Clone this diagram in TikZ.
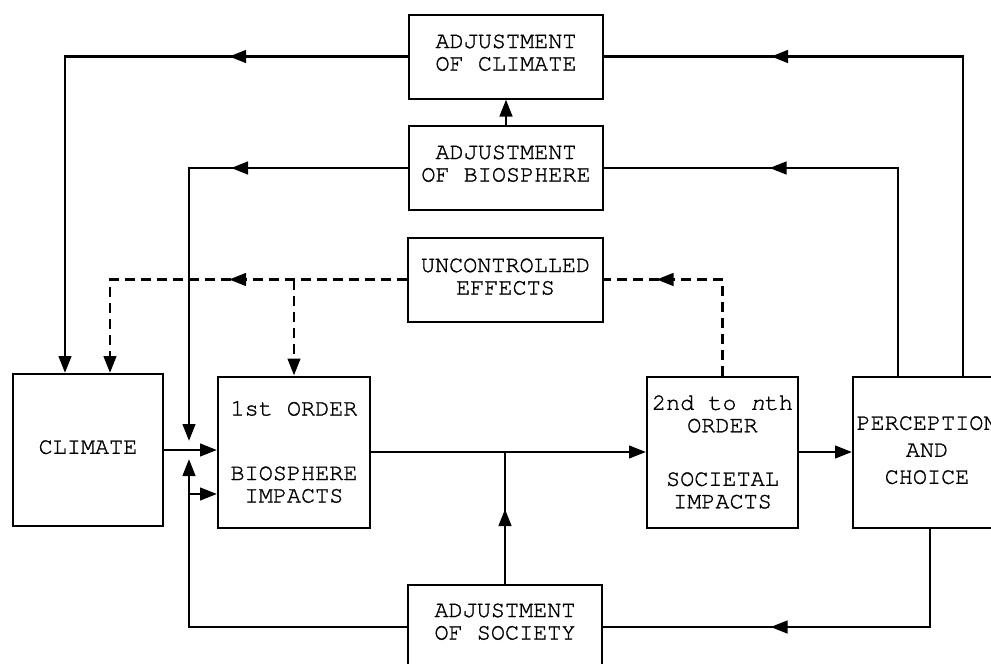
\documentclass[tikz,border=0pt]{standalone}
\usepackage{fontspec}
\setmonofont{texgyrecursor-regular.otf}[ItalicFont=texgyrecursor-italic.otf,FakeBold=1.2]
\usetikzlibrary{arrows.meta,decorations.markings}
\tikzset{
 box/.style={draw, line width=2pt, inner sep=0pt, align=center,
   font=\ttfamily\fontsize{23.5}{22.5}\selectfont},
 lift/.style={text depth=#1},
 conn/.style={line width=2.7pt},
 dsh/.style={conn, dash pattern=on 10pt off 6pt},
 tip/.style={-{Triangle[length=17pt,width=12.5pt]}},
 marr/.style={postaction={decorate}, decoration={markings,
   mark=at position #1 with {\arrow{Triangle[length=17pt,width=12.5pt]}}}},
}
\begin{document}
\begin{tikzpicture}[x=1pt,y=-1pt]
\useasboundingbox (0,0) rectangle (991,664);
\clip (0,0) rectangle (991,664);
% boxes
\node[box, lift=8pt, minimum width=194pt, minimum height=84pt] (adjc) at (506,56.5) {ADJUSTMENT\\OF CLIMATE};
\node[box, lift=9pt, minimum width=194pt, minimum height=84pt] (adjb) at (506,168) {ADJUSTMENT\\OF BIOSPHERE};
\node[box, lift=6pt, minimum width=195pt, minimum height=84pt] (unc) at (505.5,279.5) {UNCONTROLLED\\EFFECTS};
\node[box, lift=6pt, minimum width=150pt, minimum height=152pt] (clim) at (88,450) {CLIMATE};
\node[box, minimum width=152pt, minimum height=151pt] (first) at (294,452) {1st ORDER\\[42pt]BIOSPHERE\\IMPACTS};
\node[box, minimum width=151pt, minimum height=151pt] (second) at (722.5,452) {2nd to \textit{n}th\\ORDER\\[31pt]SOCIETAL\\IMPACTS};
\node[box, lift=4pt, minimum width=148pt, minimum height=151pt] (perc) at (927,452) {PERCEPTION\\[4.5pt]AND\\[4.5pt]CHOICE};
\node[box, lift=11pt, minimum width=194pt, minimum height=84pt] (adjs) at (505,627) {ADJUSTMENT\\OF SOCIETY};
% helper coordinates
\coordinate (xa) at (65,0);
\coordinate (xb) at (110,0);
\coordinate (xd) at (963,0);
\coordinate (xe) at (898,0);
\coordinate (xf) at (930,0);
\coordinate (jt) at (189,441);
\coordinate (jb) at (189,459);
\coordinate (br) at (189,494);
\coordinate (jn) at (adjs.north |- first.east);
% feedback loops from perception
\draw[conn, marr=511pt] (perc.north -| xd) |- (adjc.east);
\draw[conn, marr=336pt] (perc.north -| xe) |- (adjb.east);
\draw[conn, marr=258pt] (perc.south -| xf) |- (adjs.east);
% adjustments to climate / biosphere
\draw[conn, tip, marr=179pt] (adjc.west) -| (clim.north -| xa);
\draw[conn, tip, marr=177pt] (adjb.west) -| (jt);
\draw[conn, tip] (adjb.north) -- (adjb.north |- adjc.south);
% adjustment of society
\draw[conn, tip] (adjs.west) -| (jb);
\draw[conn, tip] (br) -- (br -| first.west);
\draw[conn, marr=75pt] (adjs.north) -- (jn);
% uncontrolled effects
\draw[dsh, tip, marr=178pt] (unc.west) -| (clim.north -| xb);
\draw[dsh, tip] (unc.west -| first.north) -- (first.north);
\draw[dsh, marr=162pt] (second.north) |- (unc.east);
% main chain
\draw[conn, tip] (clim.east) -- (clim.east -| first.west);
\draw[conn, tip] (first.east) -- (first.east -| second.west);
\draw[conn, tip] (second.east) -- (second.east -| perc.west);
\end{tikzpicture}
\end{document}
